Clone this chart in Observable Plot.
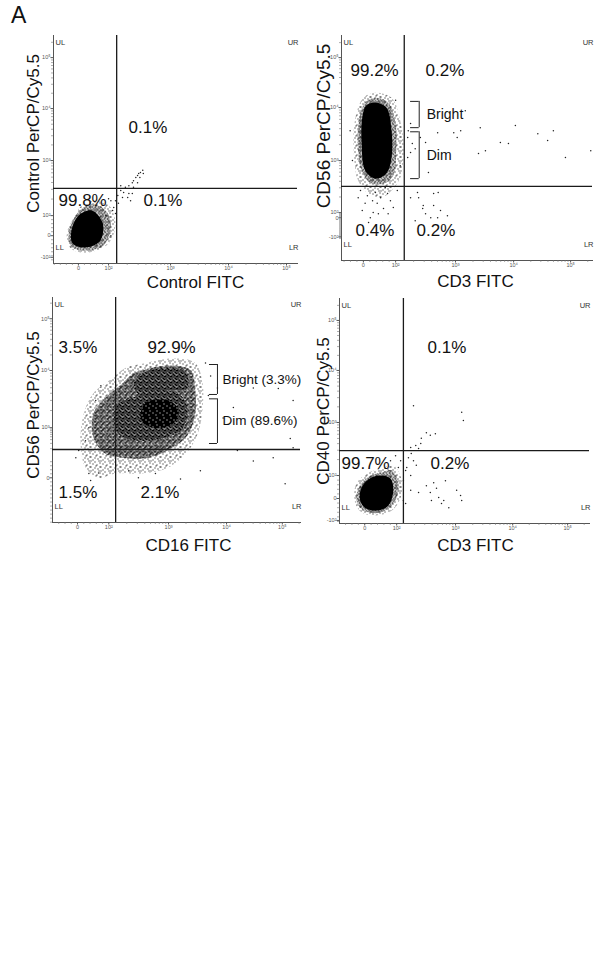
<!DOCTYPE html>
<html><head><meta charset="utf-8">
<script src="https://cdn.jsdelivr.net/npm/d3@7"></script>
<script src="https://cdn.jsdelivr.net/npm/@observablehq/plot@0.6"></script>
<style>
html,body{margin:0;padding:0;background:#fff;}
body{position:relative;width:609px;height:977px;overflow:hidden;font-family:"Liberation Sans",Arial,Helvetica,sans-serif;}
.panel{position:absolute;}
.panel svg{display:block;max-width:none;background:transparent;overflow:visible;}
#fig-label{position:absolute;left:11px;top:4px;font-size:23px;line-height:1;color:#111;}
</style></head>
<body>
<svg width="0" height="0" style="position:absolute;left:0;top:0" aria-hidden="true"><defs>
<pattern id="sp1" width="10" height="10" patternUnits="userSpaceOnUse">
<rect x="0" y="0" width="1" height="1" fill="#000"/><rect x="4" y="1" width="1" height="1" fill="#000"/>
<rect x="8" y="0" width="1" height="1" fill="#000"/><rect x="2" y="3" width="1" height="1" fill="#000"/>
<rect x="6" y="4" width="1" height="1" fill="#000"/><rect x="9" y="2" width="1" height="1" fill="#000"/>
<rect x="0" y="6" width="1" height="1" fill="#000"/><rect x="4" y="7" width="1" height="1" fill="#000"/>
<rect x="7" y="8" width="1" height="1" fill="#000"/><rect x="2" y="9" width="1" height="1" fill="#000"/>
<rect x="9" y="6" width="1" height="1" fill="#000"/><rect x="5" y="5" width="1" height="1" fill="#000"/>
</pattern>
<pattern id="sp2" width="6" height="6" patternUnits="userSpaceOnUse">
<rect x="0" y="0" width="1" height="1" fill="#000"/><rect x="3" y="0" width="1" height="1" fill="#000"/>
<rect x="5" y="1" width="1" height="1" fill="#000"/><rect x="1" y="2" width="1" height="1" fill="#000"/>
<rect x="4" y="2" width="1" height="1" fill="#000"/><rect x="2" y="3" width="1" height="1" fill="#000"/>
<rect x="0" y="4" width="1" height="1" fill="#000"/><rect x="5" y="3" width="1" height="1" fill="#000"/>
<rect x="3" y="4" width="1" height="1" fill="#000"/><rect x="1" y="5" width="1" height="1" fill="#000"/>
<rect x="4" y="5" width="1" height="1" fill="#000"/><rect x="2" y="1" width="1" height="1" fill="#000"/>
<rect x="5" y="5" width="1" height="1" fill="#000"/>
</pattern>
<pattern id="sp25" width="6" height="6" patternUnits="userSpaceOnUse">
<rect x="0" y="0" width="1" height="1" fill="#000"/><rect x="3" y="0" width="1" height="1" fill="#000"/>
<rect x="5" y="1" width="1" height="1" fill="#000"/><rect x="1" y="2" width="1" height="1" fill="#000"/>
<rect x="4" y="2" width="1" height="1" fill="#000"/><rect x="2" y="3" width="1" height="1" fill="#000"/>
<rect x="0" y="4" width="1" height="1" fill="#000"/><rect x="5" y="3" width="1" height="1" fill="#000"/>
<rect x="3" y="4" width="1" height="1" fill="#000"/><rect x="1" y="5" width="1" height="1" fill="#000"/>
<rect x="4" y="5" width="1" height="1" fill="#000"/><rect x="2" y="1" width="1" height="1" fill="#000"/>
<rect x="5" y="5" width="1" height="1" fill="#000"/><rect x="1" y="0" width="1" height="1" fill="#000"/>
<rect x="0" y="1" width="1" height="1" fill="#000"/><rect x="3" y="2" width="1" height="1" fill="#000"/>
<rect x="4" y="4" width="1" height="1" fill="#000"/><rect x="2" y="5" width="1" height="1" fill="#000"/>
<rect x="5" y="2" width="1" height="1" fill="#000"/>
</pattern>
<pattern id="sp3" width="6" height="6" patternUnits="userSpaceOnUse">
<rect x="0" y="0" width="6" height="6" fill="#000"/>
<rect x="1" y="0" width="1" height="1" fill="#fff"/><rect x="4" y="1" width="1" height="1" fill="#fff"/>
<rect x="2" y="3" width="1" height="1" fill="#fff"/><rect x="5" y="4" width="1" height="1" fill="#fff"/>
<rect x="0" y="5" width="1" height="1" fill="#fff"/><rect x="3" y="5" width="1" height="1" fill="#fff"/>
<rect x="0" y="2" width="1" height="1" fill="#fff"/><rect x="4" y="3" width="1" height="1" fill="#fff"/>
<rect x="2" y="0" width="1" height="1" fill="#fff"/>
</pattern>
<pattern id="sp4" width="7" height="7" patternUnits="userSpaceOnUse">
<rect x="0" y="0" width="7" height="7" fill="#000"/>
<rect x="2" y="1" width="1" height="1" fill="#fff"/><rect x="5" y="3" width="1" height="1" fill="#fff"/>
<rect x="1" y="5" width="1" height="1" fill="#fff"/>
</pattern>
</defs></svg>
<div id="fig-label">A</div>
<div class="panel" id="p1"></div>
<div class="panel" id="p2"></div>
<div class="panel" id="p3"></div>
<div class="panel" id="p4"></div>
<script>
// ---------- shared tick labels ----------
const xTickLabels = ["0","10²","10³","10⁴","10⁵"];
const yTickLabels6 = ["-10²","0","10²","10³","10⁴","10⁵"];
const yTickLabels4 = ["0","10³","10⁴","10⁵"];
const quadrantNames = ["UL","UR","LL","LR"];

// ---------- panel 1 : Control ----------
const p1Titles = ["Control FITC","Control PerCP/Cy5.5"];
const p1Pct = ["0.1%","99.8%","0.1%"];
const p1XTicks = [1.41,1.93,3,4,5];
const p1YTicks = [1.12,1.54,1.93,3,4.01,5];
const p1Gate = [2.07,2.46];
const p1Outer = [[1.67,2.22],[1.93,2.13],[2.05,1.78],[1.93,1.39],[1.55,1.21],[1.28,1.29],[1.21,1.58],[1.33,1.89],[1.47,2.13]];
const p1Mid = [[1.66,2.15],[1.88,2.03],[1.97,1.76],[1.86,1.37],[1.55,1.25],[1.29,1.33],[1.24,1.60],[1.36,1.93],[1.50,2.09]];
const p1Core = [[1.64,2.03],[1.83,1.78],[1.78,1.43],[1.53,1.31],[1.31,1.39],[1.29,1.64],[1.41,1.93]];
const p1Events = [[2.05,2.22],[2.09,2.32],[2.14,2.42],[2.19,2.38],[2.22,2.48],[2.28,2.51],[2.26,2.28],[2.31,2.22],[2.34,2.57],[2.36,2.61],[2.40,2.67],[2.43,2.71],[2.45,2.75],[2.48,2.77],[2.52,2.81],[2.53,2.75],[2.36,2.48],[2.10,2.17],[2.02,2.09],[2.05,1.97],[2.17,2.28],[2.28,2.36],[2.14,2.51],[2.34,2.36],[2.47,2.67],[2.43,2.57],[1.97,2.22],[1.93,2.26],[2.00,2.03],[1.88,1.93],[1.97,1.54]];

// ---------- panel 2 : CD56 vs CD3 ----------
const p2Titles = ["CD3 FITC","CD56 PerCP/Cy5.5"];
const p2Pct = ["99.2%","0.2%","0.4%","0.2%"];
const p2XTicks = [1.40,1.96,3,4.01,5];
const p2YTicks = [1.52,1.89,1.99,3,4.03,5];
const p2Gate = [2.11,2.50];
const p2Outer = [[1.61,4.32],[1.89,4.22],[2.04,3.78],[2.10,3.25],[2.04,2.67],[1.89,2.42],[1.71,2.28],[1.49,2.36],[1.31,2.61],[1.23,3.25],[1.26,3.83],[1.40,4.22]];
const p2Mid = [[1.61,4.22],[1.83,4.13],[1.96,3.72],[1.97,3.19],[1.92,2.71],[1.75,2.55],[1.52,2.57],[1.37,2.81],[1.30,3.33],[1.33,3.83],[1.43,4.13]];
const p2Core = [[1.61,4.13],[1.80,4.03],[1.89,3.58],[1.89,3.06],[1.80,2.75],[1.61,2.65],[1.43,2.81],[1.37,3.33],[1.38,3.83],[1.45,4.07]];
const p2Events = [[1.35,2.42],[1.47,2.32],[1.56,2.22],[1.64,2.17],[1.70,2.28],[1.82,2.36],[1.75,2.07],[1.57,1.99],[1.52,1.89],[1.66,1.97],[1.87,2.22],[1.92,2.09],[1.43,2.17],[1.61,2.38],[1.78,2.48],[1.31,2.28],[1.99,2.42],[1.83,1.97],[1.49,1.80],[1.70,1.74],[1.38,2.03],
 [2.34,2.38],[2.36,2.28],[2.62,2.36],[2.70,2.38],[2.44,2.13],[2.62,2.13],[2.43,2.07],[2.48,1.97],[2.74,2.03],[2.86,1.93],[2.57,1.89],[2.30,1.83],[2.69,1.89],[2.22,2.28],
 [3.43,3.64],[3.03,3.45],[2.97,3.54],[4.04,3.68],[4.43,3.52],[4.60,3.39],[4.70,3.58],[3.92,3.33],[3.52,3.19],[3.40,3.14],[4.91,3.06],[5.35,3.19],[2.53,2.77],[2.48,3.35],[2.39,3.45],[2.22,3.72],[2.25,3.33],[2.22,3.16],[2.17,3.06],[2.30,3.23],[2.17,3.45],[2.18,3.58],[3.09,3.58],[2.69,3.54],[3.17,3.97],[3.78,3.35],
 [1.17,3.58],[1.21,3.00],[1.96,4.17],[2.04,2.90]];
const p2Brackets = [{label:"Bright",top:4.15,bottom:3.64},{label:"Dim",top:3.56,bottom:2.65}];

// ---------- panel 3 : CD56 vs CD16 ----------
const p3Titles = ["CD16 FITC","CD56 PerCP/Cy5.5"];
const p3Pct = ["3.5%","92.9%","1.5%","2.1%"];
const p3XTicks = [1.40,1.95,3,4.02,5];
const p3YTicks = [2.08,3,4.05,5];
const p3Gate = [2.07,2.60];
const p3Outer = [[2.60,4.19],[3.07,4.27],[3.47,4.19],[3.60,3.81],[3.60,3.37],[3.53,2.94],[3.35,2.58],[3.00,2.27],[2.54,2.16],[2.07,2.16],[1.77,2.08],[1.54,2.27],[1.46,2.63],[1.49,3.18],[1.67,3.62],[1.95,3.86],[2.25,4.10]];
const p3Mid = [[2.54,4.05],[3.00,4.14],[3.39,4.05],[3.47,3.68],[3.47,3.26],[3.35,2.89],[3.07,2.63],[2.65,2.45],[2.19,2.45],[1.89,2.52],[1.68,2.82],[1.68,3.26],[1.89,3.55],[2.19,3.81],[2.37,3.99]];
const p3Dense = [[2.37,3.55],[2.77,3.68],[3.18,3.62],[3.33,3.37],[3.25,3.00],[2.95,2.82],[2.47,2.76],[2.12,2.89],[2.04,3.18],[2.12,3.44]];
const p3Upper = [[2.54,3.99],[2.95,4.10],[3.30,4.01],[3.33,3.73],[2.95,3.68],[2.47,3.62],[2.39,3.81]];
const p3Core = [[2.60,3.46],[3.00,3.50],[3.18,3.31],[3.07,3.07],[2.72,3.00],[2.51,3.18]];
const p3Events = [[4.14,3.92],[4.49,3.73],[4.93,3.72],[5.19,3.50],[5.14,2.80],[4.84,2.45],[4.49,2.39],[4.21,2.58],[5.05,1.97],[3.96,3.18],[4.14,3.37],[3.86,3.73],[5.19,2.63],[1.60,2.16],[1.77,2.17],[1.37,2.45],[1.42,2.58],[1.54,2.76],[1.60,3.00],[1.63,2.03],[2.47,2.08],[2.77,2.16],[2.30,2.21],[3.65,4.19],[3.74,3.95],[3.70,3.59],[1.81,3.77],[1.72,3.50],[3.21,2.06],[3.56,2.21]];
const p3Brackets = [{label:"Bright (3.3%)",top:4.16,bottom:3.61},{label:"Dim (89.6%)",top:3.53,bottom:2.71}];

// ---------- panel 4 : CD40 vs CD3 ----------
const p4Titles = ["CD3 FITC","CD40 PerCP/Cy5.5"];
const p4Pct = ["0.1%","99.7%","0.2%"];
const p4XTicks = [1.38,1.95,3,4.02,5];
const p4YTicks = [1.08,1.51,1.96,3,4.02,5];
const p4Gate = [2.07,2.45];
const p4Outer = [[1.68,2.10],[1.89,2.16],[2.04,1.86],[2.02,1.53],[1.86,1.27],[1.57,1.18],[1.32,1.24],[1.20,1.47],[1.23,1.80],[1.45,2.02]];
const p4Mid = [[1.68,2.02],[1.86,2.06],[1.98,1.82],[1.95,1.53],[1.80,1.31],[1.57,1.22],[1.34,1.29],[1.23,1.47],[1.29,1.76],[1.48,1.96]];
const p4Core = [[1.68,1.96],[1.84,1.90],[1.89,1.67],[1.80,1.37],[1.57,1.27],[1.36,1.35],[1.29,1.53],[1.34,1.76],[1.50,1.92]];
const p4Events = [[2.25,3.33],[3.11,3.20],[3.14,3.04],[2.48,2.80],[2.55,2.75],[2.39,2.69],[2.64,2.78],[2.38,2.59],[2.29,2.55],[2.34,2.49],[2.20,2.51],[2.21,2.39],[2.16,2.31],[2.25,2.25],[2.30,2.16],[2.13,2.12],[2.20,1.96],[2.11,2.06],[2.07,1.86],[2.02,2.25],[1.98,2.12],[2.20,1.67],[2.34,1.63],[2.48,1.76],[2.55,1.63],[2.61,1.82],[2.66,1.71],[2.82,1.86],[2.70,1.53],[2.57,1.47],[2.79,1.47],[3.02,1.67],[3.09,1.57],[2.88,1.33],[3.11,1.47],[2.75,1.41],[2.07,1.47],[2.11,1.41],[1.93,2.35],[1.84,2.25]];

// ---------- layout (pixels) ----------
const panels = [
 {id:"p1", left:0, top:0, width:303, height:295, m:[35,6,32,53], xDomain:[0.98,5.19], yDomain:[1.0,5.43],
  xTicks:p1XTicks, yTicks:p1YTicks, yLabels:yTickLabels6, xMinor:{zero:1.41,e:[1.93,3,4,5]}, yMinor:{zero:1.54,e:[1.93,3,4.01,5]},
  gate:p1Gate, clouds:[[p1Outer,"url(#sp1)"],[p1Mid,"url(#sp2)"],[p1Core,"#000"]], events:p1Events,
  titles:p1Titles, xTitle:[20,19], yTitle:[-20,-16], yFont:17, pct:p1Pct, pctPos:[[75,92],[5,165],[90,165]]},
 {id:"p2", left:300, top:0, width:309, height:295, m:[35,17,35,41], xDomain:[1.02,5.38], yDomain:[1.06,5.43],
  xTicks:p2XTicks, yTicks:p2YTicks, yLabels:yTickLabels6, xMinor:{zero:1.40,e:[1.96,3,4.01,5]}, yMinor:{zero:1.89,e:[1.99,3,4.03,5]},
  gate:p2Gate, clouds:[[p2Outer,"url(#sp1)"],[p2Mid,"url(#sp2)"],[p2Core,"#000"]], events:p2Events,
  titles:p2Titles, xTitle:[8.5,21], yTitle:[-18,-22], yFont:19, pct:p2Pct, pctPos:[[9,35],[84,35],[14,195],[75,195]],
  brackets:p2Brackets, bx:[2.22,2.37,2.50], bFont:14},
 {id:"p3", left:0, top:290, width:303, height:270, m:[7,3,38,52], xDomain:[0.96,5.32], yDomain:[1.26,5.39],
  xTicks:p3XTicks, yTicks:p3YTicks, yLabels:yTickLabels4, xMinor:{zero:1.40,e:[1.95,3,4.02,5]}, yMinor:{zero:2.08,e:[2.45,3,4.05,5]},
  gate:p3Gate, clouds:[[p3Outer,"url(#sp1)"],[p3Mid,"url(#sp25)"],[p3Dense,"url(#sp3)"],[p3Upper,"url(#sp3)"],[p3Core,"url(#sp4)"]], events:p3Events,
  titles:p3Titles, xTitle:[12,23], yTitle:[-19,-5], yFont:17, pct:p3Pct, pctPos:[[6,50],[95,50],[6,195],[88,195]],
  brackets:p3Brackets, bx:[3.72,3.86,3.95], bFont:13.5},
 {id:"p4", left:300, top:290, width:309, height:270, m:[8,20,37,39], xDomain:[0.93,5.39], yDomain:[1.02,5.43],
  xTicks:p4XTicks, yTicks:p4YTicks, yLabels:yTickLabels6, xMinor:{zero:1.38,e:[1.95,3,4.02,5]}, yMinor:{zero:1.51,e:[1.96,3,4.02,5]},
  gate:p4Gate, clouds:[[p4Outer,"url(#sp1)"],[p4Mid,"url(#sp2)"],[p4Core,"#000"]], events:p4Events,
  titles:p4Titles, xTitle:[11,22], yTitle:[-16,0], yFont:17, pct:p4Pct, pctPos:[[88,49],[2,165],[91,165]]}
];

// minor tick positions for the biexponential-like axis decoration
function minorTicks(spec, domain) {
  const out = [];
  const lin = (spec.e[0] - spec.zero) / 5;
  for (let k = 1; k < 5; k++) out.push(spec.zero + lin * k);
  for (let k = 1; k <= 20; k++) { const u = spec.zero - lin * k; if (u < domain[0]) break; out.push(u); }
  const e = spec.e;
  for (let j = 0; j < e.length; j++) {
    const span = j < e.length - 1 ? e[j + 1] - e[j] : e[j] - e[j - 1];
    for (let m = 2; m <= 9; m++) { const u = e[j] + span * Math.log10(m); if (u <= domain[1]) out.push(u); }
  }
  return out;
}

const TXT = "#111";
for (const P of panels) {
  const xMap = new Map(P.xTicks.map((v, i) => [v, xTickLabels[i]]));
  const yMap = new Map(P.yTicks.map((v, i) => [v, P.yLabels[i]]));
  const marks = [];
  for (const [poly, fill] of P.clouds) {
    marks.push(Plot.line(poly, {x: d => d[0], y: d => d[1], fill, stroke: "none", curve: "catmull-rom-closed"}));
  }
  marks.push(Plot.dot(P.events, {x: d => d[0], y: d => d[1], r: 0.75, fill: "#222"}));
  // axis minor ticks
  marks.push(Plot.ruleX(minorTicks(P.xMinor, P.xDomain), {y1: P.yDomain[0], y2: P.yDomain[0], insetBottom: -2, stroke: "#777", strokeWidth: 0.6}));
  marks.push(Plot.ruleY(minorTicks(P.yMinor, P.yDomain), {x1: P.xDomain[0], x2: P.xDomain[0], insetLeft: -2, stroke: "#777", strokeWidth: 0.6}));
  // quadrant gates
  marks.push(Plot.ruleX([P.gate[0]], {stroke: "#1a1a1a", strokeWidth: 1.3}));
  marks.push(Plot.ruleY([P.gate[1]], {stroke: "#1a1a1a", strokeWidth: 1.3}));
  // corner labels
  const corner = [["top-left", 2, 7, "start"], ["top-right", 1, 7, "end"], ["bottom-left", 2, -16, "start"], ["bottom-right", 1, -16, "end"]];
  quadrantNames.forEach((q, i) => {
    const [fa, dx, dy, ta] = corner[i];
    marks.push(Plot.text([q], {text: d => d, frameAnchor: fa, dx, dy, textAnchor: ta, lineAnchor: "middle", fontSize: 7.5, fill: "#333"}));
  });
  // percentages
  P.pct.forEach((t, i) => {
    marks.push(Plot.text([t], {text: d => d, frameAnchor: "top-left", dx: P.pctPos[i][0], dy: P.pctPos[i][1], textAnchor: "start", lineAnchor: "middle", fontSize: 17, fill: TXT}));
  });
  // axis titles
  marks.push(Plot.text([P.titles[0]], {text: d => d, frameAnchor: "bottom", dx: P.xTitle[0], dy: P.xTitle[1], textAnchor: "middle", lineAnchor: "middle", fontSize: 17, fill: TXT}));
  marks.push(Plot.text([P.titles[1]], {text: d => d, frameAnchor: "left", rotate: -90, dx: P.yTitle[0], dy: P.yTitle[1], textAnchor: "middle", lineAnchor: "middle", fontSize: P.yFont, fill: TXT}));
  // Bright / Dim brackets
  if (P.brackets) {
    const [xs, xv, xt] = P.bx;
    marks.push(Plot.ruleX(P.brackets, {x: xv, y1: "top", y2: "bottom", stroke: "#222", strokeWidth: 1}));
    marks.push(Plot.ruleY(P.brackets, {y: "top", x1: xs, x2: xv, stroke: "#222", strokeWidth: 1}));
    marks.push(Plot.ruleY(P.brackets, {y: "bottom", x1: xs, x2: xv, stroke: "#222", strokeWidth: 1}));
    marks.push(Plot.text(P.brackets, {x: xt, y: d => (d.top + d.bottom) / 2, text: "label", textAnchor: "start", lineAnchor: "middle", fontSize: P.bFont, fill: TXT}));
  }
  const chart = Plot.plot({
    width: P.width, height: P.height,
    marginTop: P.m[0], marginRight: P.m[1], marginBottom: P.m[2], marginLeft: P.m[3],
    style: {fontFamily: "'Liberation Sans', Arial, Helvetica, sans-serif", fontSize: "5.5px", color: "#555", background: "transparent", overflow: "visible", maxWidth: "none"},
    x: {domain: P.xDomain, ticks: P.xTicks, tickFormat: d => xMap.get(d) ?? "", tickSize: 2.5, tickPadding: 0.5, line: true, label: null},
    y: {domain: P.yDomain, ticks: P.yTicks, tickFormat: d => yMap.get(d) ?? "", tickSize: 2.5, tickPadding: 0.5, line: true, label: null},
    marks
  });
  const host = document.getElementById(P.id);
  host.style.left = P.left + "px";
  host.style.top = P.top + "px";
  host.appendChild(chart);
}
</script>
</body></html>
